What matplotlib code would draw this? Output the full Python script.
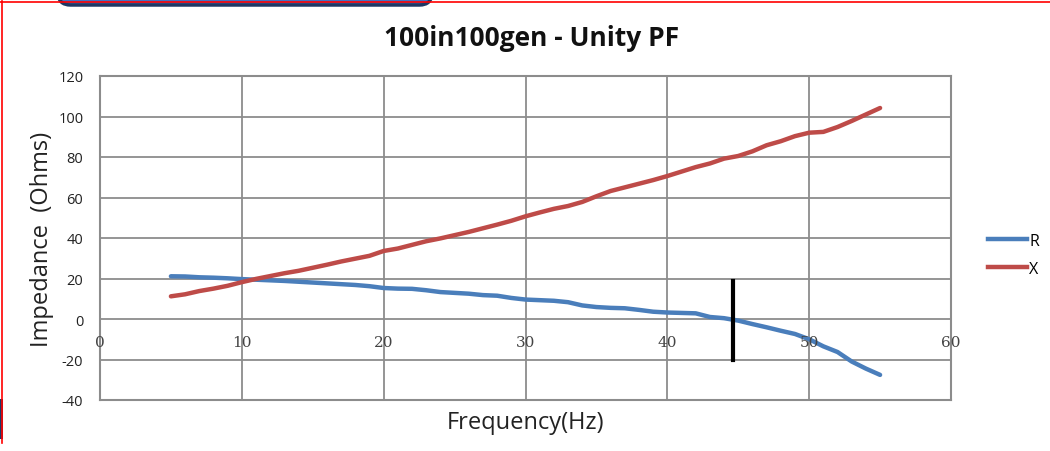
import matplotlib.pyplot as plt
import matplotlib.transforms as mtransforms
from matplotlib.patches import FancyBboxPatch, Rectangle
from matplotlib.lines import Line2D
import numpy as np

# Frequency sweep (Hz)
freq = [5, 6, 7, 8, 9, 10, 11, 12, 13, 14, 15, 16, 17, 18, 19, 20,
        21, 22, 23, 24, 25, 26, 27, 28, 29, 30, 31, 32, 33, 34, 35,
        36, 37, 38, 39, 40, 41, 42, 43, 44, 45, 46, 47, 48, 49, 50,
        51, 52, 53, 54, 55]

# Resistance R (Ohms)
r_vals = [21.1, 21.0, 20.6, 20.4, 20.1, 19.7, 19.4, 19.1, 18.8, 18.4,
          18.0, 17.6, 17.2, 16.8, 16.2, 15.3, 15.0, 14.9, 14.2, 13.3,
          12.9, 12.5, 11.8, 11.5, 10.4, 9.6, 9.3, 9.0, 8.3, 6.7,
          5.9, 5.5, 5.3, 4.5, 3.6, 3.2, 3.0, 2.8, 1.0, 0.4,
          -0.8, -2.5, -4.1, -5.8, -7.4, -10.0, -13.5, -16.3, -21.0, -24.5,
          -27.6]

# Reactance X (Ohms)
x_vals = [11.2, 12.2, 13.8, 15.0, 16.4, 18.2, 19.8, 21.2, 22.6, 23.8,
          25.3, 26.8, 28.4, 29.8, 31.2, 33.6, 34.8, 36.6, 38.4, 39.8,
          41.4, 43.0, 44.8, 46.6, 48.5, 50.7, 52.6, 54.4, 55.8, 57.8,
          60.6, 63.2, 65.0, 66.8, 68.6, 70.6, 72.8, 75.0, 76.8, 79.2,
          80.5, 82.8, 85.8, 87.8, 90.3, 92.0, 92.4, 94.8, 97.8, 101.0,
          104.2]

# marker where R crosses zero
marker_freq = 44.6
marker_span = [-20, 19]

x_ticks = [0, 10, 20, 30, 40, 50, 60]
y_ticks = [-40, -20, 0, 20, 40, 60, 80, 100, 120]

W, H = 1050, 452
fig = plt.figure(figsize=(W / 100, H / 100), dpi=100)
ax = fig.add_axes([100 / W, (H - 401) / H, 851 / W, 324 / H])

grid_col = '#8c8c8c'
ax.plot(freq, r_vals, color='#4a7ebb', lw=3.2, solid_capstyle='round', label='R')
ax.plot(freq, x_vals, color='#be4b48', lw=3.2, solid_capstyle='round', label='X')
ax.plot([marker_freq, marker_freq], marker_span, color='black', lw=3)

ax.set_xlim(0, 60)
ax.set_ylim(-40, 120)
ax.set_xticks(x_ticks)
ax.set_yticks(y_ticks)
ax.grid(True, color=grid_col, lw=1.3)
ax.set_axisbelow(True)
for s in ax.spines.values():
    s.set_color(grid_col)
    s.set_linewidth(1.5)
ax.tick_params(length=0)
ax.set_xticklabels([])
ax.set_yticklabels([str(v) for v in y_ticks], fontsize=10.5, color='#222222',
                   family='Open Sans')
ax.tick_params(axis='y', pad=12)

# x tick labels sit on the y = 0 line
trans = mtransforms.blended_transform_factory(ax.transData, ax.transData)
for v in x_ticks:
    ax.text(v, 0, str(v), transform=trans + mtransforms.ScaledTranslation(0, -0.23, fig.dpi_scale_trans),
            ha='center', va='center', fontsize=11, family='DejaVu Serif',
            color='#444444')

ax.set_xlabel('Frequency(Hz)', fontsize=17, family='Open Sans', color='#222222', labelpad=4)
ax.set_ylabel('Impedance  (Ohms)', fontsize=17, family='Open Sans', color='#222222', labelpad=3)
fig.text(532 / W, 1 - 38 / H, '100in100gen - Unity PF', ha='center', va='center',
         fontsize=19, fontweight='bold', family='Open Sans', color='#111111')

handles = [Line2D([], [], color='#4a7ebb', lw=3.2), Line2D([], [], color='#be4b48', lw=3.2)]
fig.legend(handles, ['R', 'X'], loc='center left', bbox_to_anchor=(974 / W, 1 - 256 / H),
           frameon=False, handlelength=2.4, handletextpad=0.15,
           labelspacing=0.75, prop={'family': 'Open Sans', 'size': 11.5})

# slide decorations: red frame and blue shape cut off at the top
fig.add_artist(Line2D([2 / W, 2 / W], [1 - 2 / H, 1 - 444 / H], color='red', lw=1.2,
                      transform=fig.transFigure))
fig.add_artist(Line2D([0, 1], [1 - 3 / H, 1 - 3 / H], color='red', lw=1.2,
                      transform=fig.transFigure))
fig.add_artist(FancyBboxPatch((58 / W, 1 - 6 / H), 374 / W, 30 / H,
                              boxstyle='round,pad=0,rounding_size=0.012',
                              transform=fig.transFigure, facecolor='#4472c4',
                              edgecolor='#1f3864', lw=2.5, mutation_aspect=W / H))
fig.add_artist(Rectangle((0, 1 - 440 / H), 3 / W, 40 / H, transform=fig.transFigure,
                         facecolor='#1f3864', edgecolor='none'))

fig.savefig('out.png', dpi=100)
